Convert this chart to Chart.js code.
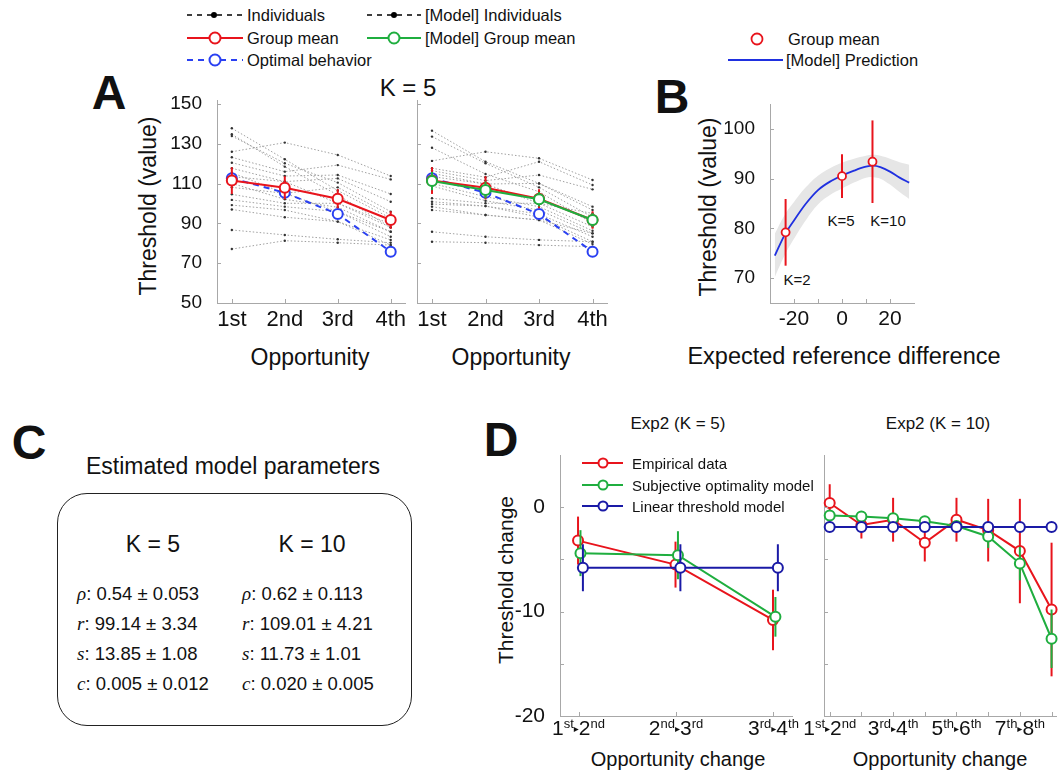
<!DOCTYPE html>
<html>
<head>
<meta charset="utf-8">
<script src="https://cdn.jsdelivr.net/npm/chart.js@4.4.1/dist/chart.umd.min.js"></script>
<style>
  body { margin: 0; width: 1063px; height: 778px; background: #fff; position: relative; overflow: hidden;
         font-family: "Liberation Sans", Arial, sans-serif; color: #111; }
  canvas { position: absolute; }
  svg { position: absolute; overflow: visible; }
  .t { position: absolute; white-space: nowrap; line-height: 1; }
  .c { transform: translate(-50%, -50%); }
  .l { transform: translateY(-50%); }
  .rot { transform: translate(-50%, -50%) rotate(-90deg); }
  .big { font-weight: bold; font-size: 48px; }
  .m { font-family: "Liberation Serif", "DejaVu Serif", serif; font-style: italic; font-size: 19px; }
  .p { font-size: 18.5px; }
  #box { position: absolute; left: 57px; top: 493px; width: 353px; height: 231px; border: 1.5px solid #222; border-radius: 30px; }
</style>
</head>
<body>

<!-- panel letters -->
<div class="t c big" style="left:109px;top:93px">A</div>
<div class="t c big" style="left:672px;top:97px">B</div>
<div class="t c big" style="left:29px;top:443px">C</div>
<div class="t c big" style="left:501px;top:440px">D</div>

<!-- legend A -->
<svg style="left:187px;top:15px" width="56" height="1"><line x1="0" y1="0" x2="56" y2="0" stroke="#000" stroke-width="1.5" stroke-dasharray="5,5"/><circle cx="27" cy="0" r="3" fill="#000"/></svg>
<div class="t l" style="left:247px;top:15px;font-size:16.5px">Individuals</div>
<svg style="left:367px;top:15px" width="56" height="1"><line x1="0" y1="0" x2="54" y2="0" stroke="#000" stroke-width="1.5" stroke-dasharray="5,5"/><circle cx="27" cy="0" r="3" fill="#000"/></svg>
<div class="t l" style="left:425px;top:15px;font-size:16.5px">[Model] Individuals</div>
<svg style="left:187px;top:38px" width="56" height="1"><line x1="0" y1="0" x2="56" y2="0" stroke="#e8141c" stroke-width="2"/><circle cx="28" cy="0" r="5.5" fill="#fff" stroke="#e8141c" stroke-width="2"/></svg>
<div class="t l" style="left:247px;top:38px;font-size:16.5px">Group mean</div>
<svg style="left:367px;top:38px" width="56" height="1"><line x1="0" y1="0" x2="54" y2="0" stroke="#1fae3f" stroke-width="2"/><circle cx="27" cy="0" r="5.5" fill="#fff" stroke="#1fae3f" stroke-width="2"/></svg>
<div class="t l" style="left:425px;top:38px;font-size:16.5px">[Model] Group mean</div>
<svg style="left:187px;top:60px" width="56" height="1"><line x1="0" y1="0" x2="56" y2="0" stroke="#2a40f2" stroke-width="2" stroke-dasharray="6,5"/><circle cx="28" cy="0" r="5.5" fill="#fff" stroke="#2a40f2" stroke-width="2"/></svg>
<div class="t l" style="left:247px;top:60px;font-size:16.5px">Optimal behavior</div>

<!-- panel A texts -->
<div class="t c" style="left:408px;top:88px;font-size:24px">K = 5</div>
<div class="t rot" style="left:148px;top:206px;font-size:23px">Threshold (value)</div>
<div class="t c" style="left:310px;top:357px;font-size:23px">Opportunity</div>
<div class="t c" style="left:511px;top:357px;font-size:23px">Opportunity</div>

<!-- legend B -->
<svg style="left:757px;top:39px" width="1" height="1"><circle cx="0" cy="0" r="5.5" fill="#fff" stroke="#e8141c" stroke-width="1.8"/></svg>
<div class="t l" style="left:788px;top:39px;font-size:16.5px">Group mean</div>
<svg style="left:728px;top:60px" width="56" height="1"><line x1="0" y1="0" x2="55" y2="0" stroke="#1f30e0" stroke-width="1.8"/></svg>
<div class="t l" style="left:786px;top:60px;font-size:16.5px">[Model] Prediction</div>

<!-- panel B texts -->
<div class="t rot" style="left:708px;top:207px;font-size:23px">Threshold (value)</div>
<div class="t c" style="left:844px;top:357px;font-size:23.5px">Expected reference difference</div>
<div class="t c" style="left:797px;top:279px;font-size:15px">K=2</div>
<div class="t c" style="left:841px;top:220px;font-size:15px">K=5</div>
<div class="t c" style="left:888px;top:220px;font-size:15px">K=10</div>

<!-- panel C -->
<div class="t c" style="left:233px;top:466px;font-size:23px">Estimated model parameters</div>
<div id="box"></div>
<div class="t c" style="left:153px;top:544px;font-size:23px">K = 5</div>
<div class="t c" style="left:312px;top:544px;font-size:23px">K = 10</div>
<div class="t l p" style="left:77px;top:594px"><span class="m">ρ</span>: 0.54 ± 0.053</div>
<div class="t l p" style="left:77px;top:624px"><span class="m">r</span>: 99.14 ± 3.34</div>
<div class="t l p" style="left:77px;top:654px"><span class="m">s</span>: 13.85 ± 1.08</div>
<div class="t l p" style="left:77px;top:684px"><span class="m">c</span>: 0.005 ± 0.012</div>
<div class="t l p" style="left:242px;top:594px"><span class="m">ρ</span>: 0.62 ± 0.113</div>
<div class="t l p" style="left:242px;top:624px"><span class="m">r</span>: 109.01 ± 4.21</div>
<div class="t l p" style="left:242px;top:654px"><span class="m">s</span>: 11.73 ± 1.01</div>
<div class="t l p" style="left:242px;top:684px"><span class="m">c</span>: 0.020 ± 0.005</div>

<!-- panel D texts -->
<div class="t c" style="left:678px;top:423px;font-size:17px">Exp2 (K = 5)</div>
<div class="t c" style="left:938px;top:423px;font-size:17px">Exp2 (K = 10)</div>
<div class="t rot" style="left:505px;top:580px;font-size:21px">Threshold change</div>
<div class="t c" style="left:678px;top:759px;font-size:20px">Opportunity change</div>
<div class="t c" style="left:940px;top:759px;font-size:20px">Opportunity change</div>

<canvas id="aLeft" width="265" height="240" style="left:150px;top:90px"></canvas>
<canvas id="aRight" width="207" height="240" style="left:410px;top:90px"></canvas>
<canvas id="bChart" width="224" height="236" style="left:700px;top:94px"></canvas>
<canvas id="dLeft" width="302" height="300" style="left:500px;top:445px"></canvas>
<canvas id="dRight" width="283" height="300" style="left:780px;top:445px"></canvas>

<!-- legend D (drawn over the plot) -->
<svg style="left:582px;top:463px" width="42" height="1"><line x1="0" y1="0" x2="41" y2="0" stroke="#e8141c" stroke-width="2"/><circle cx="21" cy="0" r="4.5" fill="#fff" stroke="#e8141c" stroke-width="2"/></svg>
<div class="t l" style="left:632px;top:463px;font-size:15px">Empirical data</div>
<svg style="left:582px;top:485px" width="42" height="1"><line x1="0" y1="0" x2="41" y2="0" stroke="#1fae3f" stroke-width="2"/><circle cx="21" cy="0" r="4.5" fill="#fff" stroke="#1fae3f" stroke-width="2"/></svg>
<div class="t l" style="left:632px;top:485px;font-size:15px">Subjective optimality model</div>
<svg style="left:582px;top:506px" width="42" height="1"><line x1="0" y1="0" x2="41" y2="0" stroke="#1a1aa6" stroke-width="2"/><circle cx="21" cy="0" r="4.5" fill="#fff" stroke="#1a1aa6" stroke-width="2"/></svg>
<div class="t l" style="left:632px;top:506px;font-size:15px">Linear threshold model</div>

<script>
// ---- panel A: thresholds per opportunity (K = 5)
const opportunities = ["1st", "2nd", "3rd", "4th"];
const thresholdTicks = [50, 70, 90, 110, 130, 150];

const individuals = [
  [137.8, 122.2, 106.5, 92.6],
  [134.8, 118.5, 104.3, 88.0],
  [133.9, 120.2, 110.5, 95.9],
  [126.0, 130.6, 124.4, 113.8],
  [123.2, 116.0, 119.3, 112.1],
  [120.5, 113.8, 114.3, 104.8],
  [117.7, 111.0, 112.6, 100.9],
  [115.5, 105.1, 108.1, 94.2],
  [113.5, 111.0, 100.1, 89.7],
  [110.1, 102.1, 98.1, 85.8],
  [108.1, 105.1, 95.9, 83.3],
  [104.6, 100.1, 100.1, 88.0],
  [101.8, 98.4, 95.9, 85.8],
  [99.2, 96.7, 90.9, 81.7],
  [97.0, 93.1, 90.9, 79.1],
  [86.7, 84.2, 82.0, 80.3],
  [77.1, 81.3, 80.3, 79.1]
];
const modelIndividuals = [
  [136.6, 121.0, 110.1, 96.7],
  [133.6, 120.2, 108.1, 93.1],
  [128.0, 114.8, 105.9, 90.0],
  [121.4, 126.0, 122.7, 111.8],
  [117.7, 113.2, 121.0, 109.3],
  [116.5, 111.5, 114.3, 107.1],
  [115.2, 109.8, 110.1, 98.4],
  [113.5, 109.8, 100.1, 88.3],
  [110.1, 103.4, 98.4, 86.3],
  [108.8, 101.4, 96.7, 85.0],
  [102.6, 100.1, 100.1, 95.0],
  [100.9, 98.7, 94.7, 83.3],
  [99.7, 98.7, 93.1, 80.8],
  [98.4, 94.2, 91.7, 85.0],
  [96.7, 94.2, 91.7, 79.6],
  [85.8, 83.3, 81.7, 80.8],
  [80.8, 80.3, 79.1, 78.3]
];
const groupMean = [111.5, 107.9, 102.4, 91.7];
const groupMeanErr = [6.7, 5.8, 4.8, 4.4];
const modelGroupMean = [111.3, 106.8, 102.1, 91.7];
const modelGroupMeanErr = [4.6, 4.2, 3.6, 3.4];
const optimal = [112.7, 105.4, 94.7, 75.8];

// ---- panel B: threshold vs expected reference difference
const refDiff = [-23.5, 0, 12.7];
const refMean = [79.2, 90.5, 93.4];
const refErr = [6.7, 4.4, 8.3];
const predX = [-28, -24, -20, -15, -10, -5, 0, 5, 10, 13, 16, 20, 24, 28];
const predY = [74.5, 78.6, 81.6, 85.0, 87.7, 89.4, 90.6, 91.6, 92.4, 92.6, 92.3, 91.4, 90.2, 89.2];
const predUpper = [78.9, 82.6, 85.3, 88.3, 90.6, 92.1, 93.2, 94.0, 94.6, 94.8, 94.6, 94.0, 93.3, 92.8];
const predLower = [70.2, 74.5, 77.9, 81.7, 84.8, 86.7, 88.0, 89.2, 90.2, 90.3, 90.0, 88.8, 87.3, 85.9];
const refTicksX = [-20, -10, 0, 10, 20];
const refLabelsX = ["-20", "", "0", "", "20"];
const refTicksY = [70, 80, 90, 100];

// ---- panel D: threshold change per opportunity change
const changeTicksY = [-20, -15, -10, -5, 0];
const changeK5 = [["1", "st", "2", "nd"], ["2", "nd", "3", "rd"], ["3", "rd", "4", "th"]];
const empK5 = [-3.2, -5.5, -10.8];
const empK5Err = [2.3, 2.2, 2.9];
const subjK5 = [-4.4, -4.6, -10.5];
const subjK5Err = [2.2, 2.3, 1.9];
const linK5 = [-5.8, -5.8, -5.8];
const linK5Err = [2.25, 2.25, 2.25];

const changeK10 = [["1", "st", "2", "nd"], null, ["3", "rd", "4", "th"], null,
                   ["5", "th", "6", "th"], null, ["7", "th", "8", "th"], null];
const empK10 = [0.4, -1.7, -1.2, -3.4, -1.2, -2.2, -4.2, -9.8];
const empK10Err = [1.8, 1.3, 2.1, 1.8, 2.1, 3.0, 5.0, 6.4];
const subjK10 = [-0.8, -0.9, -1.05, -1.35, -1.8, -2.8, -5.4, -12.6];
const subjK10Err = [0.4, 0.4, 0.3, 0.4, 0.3, 1.1, 1.6, 2.8];
const linK10 = [-1.9, -1.9, -1.9, -1.9, -1.9, -1.9, -1.9, -1.9];
const linK10Err = [0.4, 0.4, 0.4, 0.4, 0.4, 0.4, 0.4, 0.4];

const RED = "#e8141c", GREEN = "#1fae3f", BLUE_A = "#2a40f2", BLUE_D = "#1a1aa6", AXIS = "#a8a8a8";

Chart.defaults.font.family = '"Liberation Sans", Arial, sans-serif';
Chart.defaults.color = "#111";

// vertical error bars, drawn just before the dataset they belong to
const errorBars = {
  id: "errorBars",
  beforeDatasetDraw(chart, args) {
    const ds = chart.data.datasets[args.index];
    if (!ds.errors) return;
    const ctx = chart.ctx, y = chart.scales.y;
    ctx.save();
    ctx.strokeStyle = ds.borderColor;
    ctx.lineWidth = 2;
    args.meta.data.forEach((pt, i) => {
      const v = ds.data[i].y, e = ds.errors[i];
      ctx.beginPath();
      ctx.moveTo(pt.x, y.getPixelForValue(v - e));
      ctx.lineTo(pt.x, y.getPixelForValue(v + e));
      ctx.stroke();
    });
    ctx.restore();
  }
};

// small inward ticks like matlab axes
const innerTicks = {
  id: "innerTicks",
  afterDraw(chart) {
    const ctx = chart.ctx, a = chart.chartArea;
    ctx.save();
    ctx.strokeStyle = AXIS;
    ctx.lineWidth = 1;
    chart.scales.x.ticks.forEach(t => {
      const px = Math.round(chart.scales.x.getPixelForValue(t.value)) + 0.5;
      ctx.beginPath(); ctx.moveTo(px, a.bottom); ctx.lineTo(px, a.bottom - 4); ctx.stroke();
    });
    chart.scales.y.ticks.forEach(t => {
      const py = Math.round(chart.scales.y.getPixelForValue(t.value)) + 0.5;
      ctx.beginPath(); ctx.moveTo(a.left, py); ctx.lineTo(a.left + 4, py); ctx.stroke();
    });
    ctx.restore();
  }
};

// x labels with superscripts, e.g. 1st > 2nd
function supLabels(labels) {
  return {
    id: "supLabels",
    afterDraw(chart) {
      const ctx = chart.ctx, xs = chart.scales.x, base = chart.chartArea.bottom + 19;
      const big = '21px "Liberation Sans"', small = '13px "Liberation Sans"', arr = '10px "DejaVu Sans"';
      ctx.save();
      ctx.fillStyle = "#111";
      ctx.textBaseline = "alphabetic";
      labels.forEach((lab, i) => {
        if (!lab) return;
        const parts = [[lab[0], big, 0], [lab[1], small, -7], ["\u25B8", arr, -3], [lab[2], big, 0], [lab[3], small, -7]];
        const widths = parts.map(p => { ctx.font = p[1]; return ctx.measureText(p[0]).width; });
        let x = xs.getPixelForValue(i + 1) - widths.reduce((s, w) => s + w, 0) / 2;
        parts.forEach((p, k) => {
          ctx.font = p[1];
          ctx.fillText(p[0], x, base + p[2]);
          x += widths[k];
        });
      });
      ctx.restore();
    }
  };
}

function pts(xs, ys) {
  return ys.map((y, i) => ({ x: xs[i], y }));
}
const idx = n => Array.from({ length: n }, (_, i) => i + 1);

function xAxis(min, max, ticks, labels, height, size) {
  return {
    type: "linear", min, max,
    grid: { display: false },
    border: { display: true, color: AXIS },
    afterBuildTicks: s => { s.ticks = ticks.map(v => ({ value: v })); },
    afterFit: s => { s.height = height; s.paddingLeft = 0; s.paddingRight = 0; },
    ticks: { display: !!labels, autoSkip: false, maxRotation: 0, padding: -4, font: { size: size || 19 },
             callback: (v, i) => labels ? labels[i] : "" }
  };
}
function yAxis(min, max, ticks, width, showLabels, size, fmt) {
  return {
    type: "linear", min, max,
    grid: { display: false },
    border: { display: true, color: AXIS },
    afterBuildTicks: s => { s.ticks = ticks.map(v => ({ value: v })); },
    afterFit: s => { s.width = width; s.paddingTop = 0; s.paddingBottom = 0; },
    ticks: { display: showLabels, autoSkip: false, padding: 7, font: { size: size || 19 },
             callback: v => fmt ? fmt(v) : String(v) }
  };
}

function baseOptions(x, y, pad) {
  return {
    responsive: false, animation: false, devicePixelRatio: 1,
    layout: { padding: { top: 10, right: pad, left: 0, bottom: 0 } },
    plugins: { legend: { display: false }, tooltip: { enabled: false } },
    scales: { x, y }
  };
}

function individualSets(rows) {
  return rows.map(r => ({
    data: pts(idx(4), r), borderColor: "#a0a0a0", borderWidth: 1, borderDash: [1.5, 2],
    pointRadius: 1.2, pointBackgroundColor: "#333", pointBorderWidth: 0, order: 10
  }));
}
function meanSet(ys, errs, color, order, dash, offset) {
  return {
    data: pts(idx(ys.length).map(v => v + (offset || 0)), ys), errors: errs,
    borderColor: color, borderWidth: 2, borderDash: dash || [],
    pointRadius: 5, pointBackgroundColor: "#fff", pointBorderColor: color, pointBorderWidth: 2,
    order, clip: false
  };
}

// panel A left: empirical
new Chart(document.getElementById("aLeft"), {
  type: "line",
  data: { datasets: [
    ...individualSets(individuals),
    meanSet(optimal, null, BLUE_A, 3, [6, 5]),
    meanSet(groupMean, groupMeanErr, RED, 1)
  ] },
  options: baseOptions(xAxis(0.72, 4.27, idx(4), opportunities, 27, 22),
                       yAxis(50, 152, thresholdTicks, 67, true, 19), 10),
  plugins: [errorBars, innerTicks]
});

// panel A right: model
new Chart(document.getElementById("aRight"), {
  type: "line",
  data: { datasets: [
    ...individualSets(modelIndividuals),
    meanSet(optimal, null, BLUE_A, 3, [6, 5]),
    meanSet(groupMean, groupMeanErr, RED, 2),
    meanSet(modelGroupMean, modelGroupMeanErr, GREEN, 1)
  ] },
  options: baseOptions(xAxis(0.72, 4.27, idx(4), opportunities, 27, 22),
                       yAxis(50, 152, thresholdTicks, 7, false), 10),
  plugins: [errorBars, innerTicks]
});

// panel B
new Chart(document.getElementById("bChart"), {
  type: "line",
  data: { datasets: [
    { data: pts(predX, predUpper), borderWidth: 0, pointRadius: 0, fill: "+1",
      backgroundColor: "#e6e6e6", tension: 0.4, order: 5 },
    { data: pts(predX, predLower), borderWidth: 0, pointRadius: 0, fill: false, tension: 0.4, order: 5 },
    { data: pts(predX, predY), borderColor: "#1f30e0", borderWidth: 1.8, pointRadius: 0,
      cubicInterpolationMode: "monotone", order: 2 },
    { data: pts(refDiff, refMean), errors: refErr, showLine: false, borderColor: RED,
      pointRadius: 4, pointBackgroundColor: "#fff", pointBorderColor: RED, pointBorderWidth: 1.8,
      order: 1, clip: false }
  ] },
  options: baseOptions(xAxis(-30, 30, refTicksX, refLabelsX, 27, 21),
                       yAxis(65, 105, refTicksY, 70, true, 19), 10),
  plugins: [errorBars, innerTicks]
});

// panel D left: K = 5
new Chart(document.getElementById("dLeft"), {
  type: "line",
  data: { datasets: [
    meanSet(empK5, empK5Err, RED, 3, null, -0.005),
    meanSet(subjK5, subjK5Err, GREEN, 2, null, 0.02),
    meanSet(linK5, linK5Err, BLUE_D, 1, null, 0.045)
  ] },
  options: baseOptions(xAxis(0.81, 3.19, idx(3), null, 29),
                       yAxis(-20, 5, changeTicksY, 60, true, 21, v => v % 10 === 0 ? String(v) : ""), 10),
  plugins: [errorBars, innerTicks, supLabels(changeK5)]
});

// panel D right: K = 10
new Chart(document.getElementById("dRight"), {
  type: "line",
  data: { datasets: [
    meanSet(empK10, empK10Err, RED, 3),
    meanSet(subjK10, subjK10Err, GREEN, 2),
    meanSet(linK10, linK10Err, BLUE_D, 1)
  ] },
  options: baseOptions(xAxis(0.82, 8.14, idx(8), null, 29),
                       yAxis(-20, 5, changeTicksY, 44, false), 6),
  plugins: [errorBars, innerTicks, supLabels(changeK10)]
});
</script>
</body>
</html>
